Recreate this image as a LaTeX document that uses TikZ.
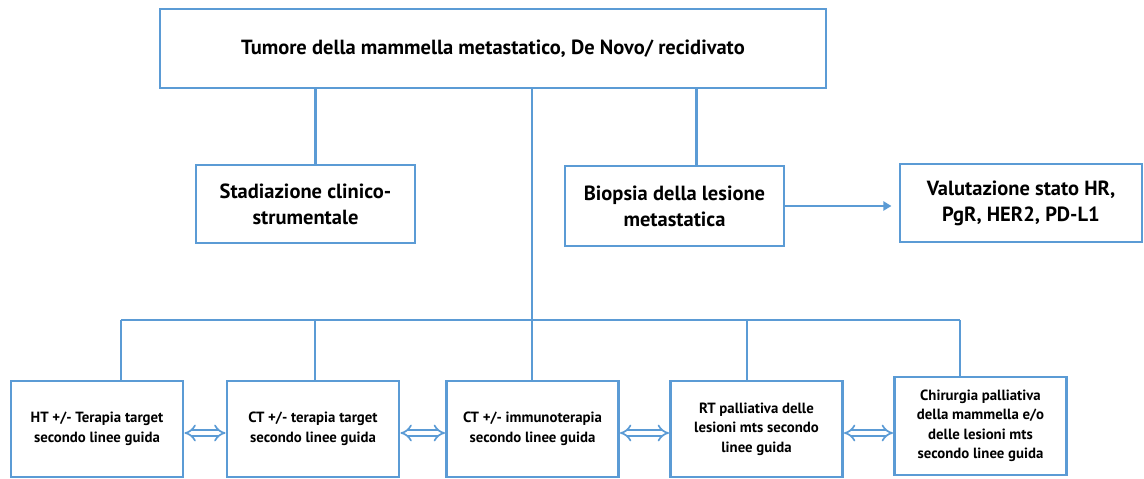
\documentclass[tikz,border=0pt]{standalone}
\usepackage{fontspec}
\setmainfont{PT Sans}
\usetikzlibrary{arrows.meta}
\definecolor{bl}{HTML}{5B9BD5}
\begin{document}
\begin{tikzpicture}[x=1pt,y=-1pt,
  box/.style={draw=bl,line width=2.9pt,fill=white,align=center,inner sep=0pt,font=\bfseries},
  ln/.style={draw=bl,line width=2.6pt},
  dbl/.style={draw=bl,line width=1.7pt,double=white,double distance=4pt,{Implies[length=6pt]}-{Implies[length=6pt]}}]
\useasboundingbox (0,0) rectangle (1144,479);
\node[box,minimum width=666pt,minimum height=79pt,font=\bfseries\fontsize{20.5}{24}\selectfont] (top) at (493,48.5) {Tumore della mammella metastatico, De Novo/ recidivato};
\node[box,minimum width=219pt,minimum height=78pt,font=\bfseries\fontsize{20.5}{26}\selectfont] (stad) at (305.5,204) {Stadiazione clinico-\\strumentale};
\node[box,minimum width=219pt,minimum height=80pt,font=\bfseries\fontsize{20.5}{26}\selectfont] (bio) at (674.5,206) {Biopsia della lesione\\metastatica};
\node[box,minimum width=242pt,minimum height=78pt,font=\bfseries\fontsize{20.5}{26}\selectfont] (val) at (1021,203) {Valutazione stato HR,\\PgR, HER2, PD-L1};
\tikzset{bbox/.style={box,minimum width=172pt,minimum height=96pt,font=\bfseries\fontsize{14.8}{19.5}\selectfont}}
\node[bbox] (b1) at (97,429) {HT +/- Terapia target\\secondo linee guida};
\node[bbox] (b2) at (313,429) {CT +/- terapia target\\secondo linee guida};
\node[bbox] (b3) at (532.5,429) {CT +/- immunoterapia\\secondo linee guida};
\node[bbox] (b4) at (756.5,429) {RT palliativa delle\\lesioni mts secondo\\linee guida};
\node[bbox,minimum height=98pt] (b5) at (980.5,426) {Chirurgia palliativa\\della mammella e/o\\delle lesioni mts\\secondo linee guida};
\coordinate (busL) at (121,320);
\coordinate (busR) at (960,320);
\coordinate (busM) at (532,320);
\draw[ln] (top.south -| stad.north) ++(10,0) coordinate (s1) (s1) -- (s1 |- stad.north);
\draw[ln] (top.south -| bio.north) ++(22,0) coordinate (s2) (s2) -- (s2 |- bio.north);
\draw[ln] (top.south -| busM) -- (busM);
\draw[ln] (busL) -- (busR);
\draw[ln] (busL) -- (busL |- b1.north);
\draw[ln] (b2.north) ++(2,0) coordinate (d2) (d2 |- busL) -- (d2);
\draw[ln] (busM) -- (busM |- b3.north);
\draw[ln] (747,320) coordinate (d4) -- (d4 |- b4.north);
\draw[ln] (busR) -- (busR |- b5.north);
\draw[draw=bl,line width=2.6pt,-{Triangle[length=8pt,width=9pt]}] (bio.east) -- ++(106,0) coordinate (ae);
\draw[dbl] ([yshift=-4pt]b1.east) -- ([yshift=-4pt]b2.west);
\draw[dbl] ([yshift=-4pt]b2.east) -- ([yshift=-4pt]b3.west);
\draw[dbl] ([yshift=-4pt]b3.east) -- ([yshift=-4pt]b4.west);
\draw[dbl] ([yshift=-4pt]b4.east) -- ([yshift=-4pt]b5.west |- b4.east);
\end{tikzpicture}
\end{document}
